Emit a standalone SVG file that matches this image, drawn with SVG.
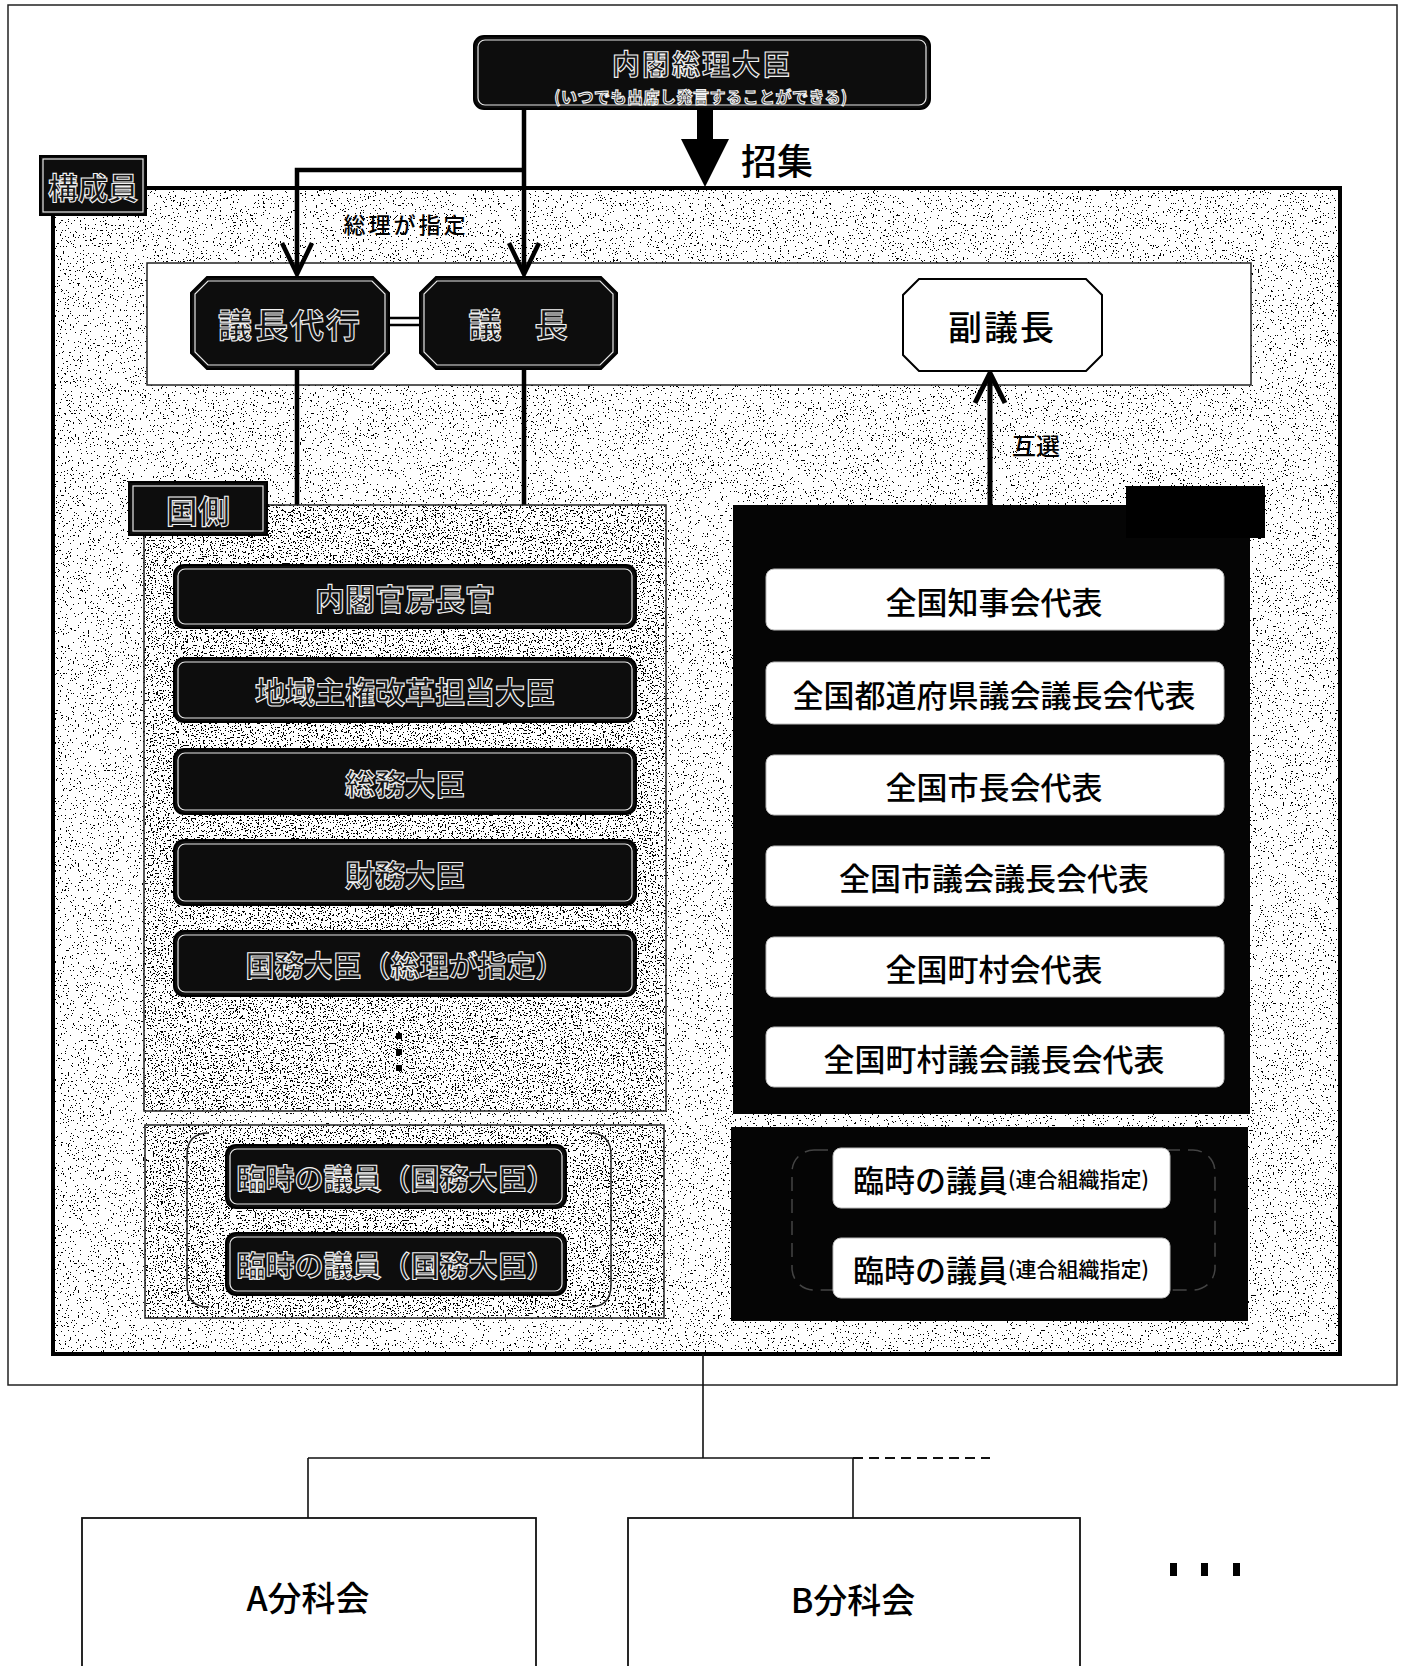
<svg xmlns="http://www.w3.org/2000/svg" width="1405" height="1666" viewBox="0 0 1405 1666">
<defs>
<style>
.jp{font-family:"Noto Sans CJK JP","Noto Sans CJK SC",sans-serif;}
.hol{fill:#151515;stroke:#f2f2f2;stroke-width:1.1;font-weight:700;text-anchor:middle;dominant-baseline:central;}
.blk{fill:#000;font-weight:500;text-anchor:middle;dominant-baseline:central;}
.dark{fill:#0d0d0d;stroke:#000;stroke-width:2;}
.inner{fill:none;stroke:#e8e8e8;stroke-width:1.2;}
.wbox{fill:#fff;stroke:#bbb;stroke-width:1;}
.conn{fill:none;stroke:#000;stroke-width:4.5;}
.thin{fill:none;stroke:#111;stroke-width:1.6;}
</style>
<filter id="spk" x="0" y="0" width="1" height="1" color-interpolation-filters="sRGB">
<feTurbulence type="fractalNoise" baseFrequency="0.6" numOctaves="2" seed="7"/>
<feColorMatrix type="matrix" values="0 0 0 0 0  0 0 0 0 0  0 0 0 0 0  12 0 0 0 -7.7"/>
<feComponentTransfer><feFuncA type="discrete" tableValues="0 1"/></feComponentTransfer>
</filter>
<filter id="spkd" x="0" y="0" width="1" height="1" color-interpolation-filters="sRGB">
<feTurbulence type="fractalNoise" baseFrequency="0.6" numOctaves="2" seed="11"/>
<feColorMatrix type="matrix" values="0 0 0 0 0  0 0 0 0 0  0 0 0 0 0  12 0 0 0 -7.0"/>
<feComponentTransfer><feFuncA type="discrete" tableValues="0 1"/></feComponentTransfer>
</filter>
</defs>
<rect width="1405" height="1666" fill="#fff"/>

<!-- frames -->
<g id="outer-frame">
<rect x="8" y="5" width="1389" height="1380" fill="#fff" stroke="#222" stroke-width="1.5"/>
</g>
<g id="main-frame">
<rect x="53" y="188" width="1287" height="1166" fill="#fff"/>
<rect x="53" y="188" width="1287" height="1166" fill="#000" filter="url(#spk)"/>
<rect x="53" y="188" width="1287" height="1166" fill="none" stroke="#000" stroke-width="4"/>
</g>

<g id="chair-band">
<rect x="147" y="263" width="1104" height="122" fill="#fff" stroke="#222" stroke-width="1.5"/>
</g>

<!-- connectors -->
<g id="connectors">
<polygon points="697,109 713,109 713,139 729,139 705,187 681,139 697,139" fill="#000"/>
<path class="conn" d="M524 109 V273 M524 170 H297 V273"/>
<path class="conn" d="M282 243 L297 274 L312 243 M509 243 L524 274 L539 243"/>
<path class="conn" d="M297 369 V505 M524 369 V505"/>
<path fill="none" stroke="#000" stroke-width="2.5" d="M389 318 H420 M389 325 H420"/>
<path fill="none" stroke="#000" stroke-width="5" d="M990 505 V374 M975 403 L990 373 L1005 403"/>
<path class="thin" d="M703 1354 V1458 M308 1458 H853 M308 1458 V1518 M853 1458 V1518"/>
<path fill="none" stroke="#111" stroke-width="1.8" stroke-dasharray="10 6" d="M853 1458 H990"/>
</g>

<g id="pm">
<rect class="dark" x="474" y="36" width="456" height="73" rx="10"/>
<rect class="inner" x="478" y="40" width="448" height="65" rx="7"/>
<text class="jp hol" x="702" y="63" font-size="28" letter-spacing="2">内閣総理大臣</text>
<text class="jp hol" x="701" y="96" font-size="16" stroke-width="0.7" letter-spacing="0.5">(いつでも出席し発言することができる)</text>
</g>
<g id="label-shoshu"><text class="jp blk" x="777" y="159" font-size="36">招集</text></g>

<g id="members-label">
<rect class="dark" x="40" y="156" width="106" height="59"/>
<rect class="inner" x="43" y="159" width="100" height="53"/>
<text class="jp hol" x="93" y="186" font-size="30">構成員</text>
</g>

<g id="label-sori"><text class="jp blk" x="406" y="223" font-size="22" letter-spacing="3" font-weight="400">総理が指定</text></g>
<g id="label-gosen"><text class="jp blk" x="1036" y="444" font-size="24" font-weight="400">互選</text></g>

<g id="gicho-dairi">
<path class="dark" d="M207 277 H373 L389 293 V353 L373 369 H207 L191 353 V293 Z"/>
<path class="inner" d="M208 281 H372 L385 294 V352 L372 365 H208 L195 352 V294 Z"/>
<text class="jp hol" x="290" y="323" font-size="34" letter-spacing="2">議長代行</text>
</g>
<g id="gicho">
<path class="dark" d="M436 277 H601 L617 293 V353 L601 369 H436 L420 353 V293 Z"/>
<path class="inner" d="M437 281 H600 L613 294 V352 L600 365 H437 L424 352 V294 Z"/>
<text class="jp hol" x="518" y="323" font-size="33">議　長</text>
</g>
<g id="fuku-gicho">
<path d="M919 279 H1086 L1102 295 V355 L1086 371 H919 L903 355 V295 Z" fill="#fff" stroke="#000" stroke-width="2"/>
<text class="jp blk" x="1002" y="325" font-size="34" letter-spacing="2">副議長</text>
</g>

<!-- national side -->
<g id="kuni-panel">
<rect x="144" y="505" width="522" height="606" fill="#fff"/>
<rect x="144" y="505" width="522" height="606" fill="#000" filter="url(#spkd)"/>
<rect x="144" y="505" width="522" height="606" fill="none" stroke="#222" stroke-width="1.5"/>
<rect x="396" y="1033" width="6" height="6" fill="#000"/>
<rect x="396" y="1049" width="6" height="6" fill="#000"/>
<rect x="396" y="1065" width="6" height="6" fill="#000"/>
</g>
<g id="kuni-label">
<rect class="dark" x="129" y="482" width="138" height="53"/>
<rect class="inner" x="133" y="486" width="130" height="45"/>
<text class="jp hol" x="198" y="509" font-size="32">国側</text>
</g>
<g id="k1"><rect class="dark" x="174" y="565" width="462" height="63" rx="10"/><rect class="inner" x="178" y="569" width="454" height="55" rx="7"/><text class="jp hol" x="405" y="597" font-size="30">内閣官房長官</text></g>
<g id="k2"><rect class="dark" x="174" y="658" width="462" height="64" rx="10"/><rect class="inner" x="178" y="662" width="454" height="56" rx="7"/><text class="jp hol" x="405" y="690" font-size="30">地域主権改革担当大臣</text></g>
<g id="k3"><rect class="dark" x="174" y="749" width="462" height="65" rx="10"/><rect class="inner" x="178" y="753" width="454" height="57" rx="7"/><text class="jp hol" x="405" y="782" font-size="30">総務大臣</text></g>
<g id="k4"><rect class="dark" x="174" y="840" width="462" height="65" rx="10"/><rect class="inner" x="178" y="844" width="454" height="57" rx="7"/><text class="jp hol" x="405" y="873" font-size="30">財務大臣</text></g>
<g id="k5"><rect class="dark" x="174" y="931" width="462" height="65" rx="10"/><rect class="inner" x="178" y="935" width="454" height="57" rx="7"/><text class="jp hol" x="405" y="964" font-size="29">国務大臣（総理が指定）</text></g>

<g id="kuni-temp-panel">
<rect x="145" y="1125" width="519" height="193" fill="#fff"/>
<rect x="145" y="1125" width="519" height="193" fill="#000" filter="url(#spkd)"/>
<rect x="145" y="1125" width="519" height="193" fill="none" stroke="#222" stroke-width="1.5"/>
<path fill="none" stroke="#222" stroke-width="1.5" d="M209 1133 Q187 1133 187 1155 V1285 Q187 1307 209 1307 M589 1133 Q611 1133 611 1155 V1285 Q611 1307 589 1307"/>
</g>
<g id="kt1"><rect class="dark" x="226" y="1145" width="340" height="63" rx="10"/><rect class="inner" x="230" y="1149" width="332" height="55" rx="7"/><text class="jp hol" x="396" y="1177" font-size="29">臨時の議員（国務大臣）</text></g>
<g id="kt2"><rect class="dark" x="226" y="1233" width="340" height="62" rx="10"/><rect class="inner" x="230" y="1237" width="332" height="54" rx="7"/><text class="jp hol" x="396" y="1264" font-size="29">臨時の議員（国務大臣）</text></g>

<!-- local side -->
<g id="chiho-panel">
<rect x="733" y="505" width="517" height="609" fill="#050505"/>
<rect x="1126" y="486" width="139" height="52" fill="#000"/>
</g>
<g id="c1"><rect class="wbox" x="766" y="569" width="458" height="61" rx="8"/><text class="jp blk" x="994" y="600" font-size="31">全国知事会代表</text></g>
<g id="c2"><rect class="wbox" x="766" y="662" width="458" height="62" rx="8"/><text class="jp blk" x="994" y="693" font-size="31">全国都道府県議会議長会代表</text></g>
<g id="c3"><rect class="wbox" x="766" y="755" width="458" height="60" rx="8"/><text class="jp blk" x="994" y="785" font-size="31">全国市長会代表</text></g>
<g id="c4"><rect class="wbox" x="766" y="846" width="458" height="60" rx="8"/><text class="jp blk" x="994" y="876" font-size="31">全国市議会議長会代表</text></g>
<g id="c5"><rect class="wbox" x="766" y="937" width="458" height="60" rx="8"/><text class="jp blk" x="994" y="967" font-size="31">全国町村会代表</text></g>
<g id="c6"><rect class="wbox" x="766" y="1027" width="458" height="60" rx="8"/><text class="jp blk" x="994" y="1057" font-size="31">全国町村議会議長会代表</text></g>

<g id="chiho-temp-panel">
<rect x="731" y="1127" width="517" height="194" fill="#050505"/>
<rect x="792" y="1150" width="423" height="140" rx="22" fill="none" stroke="#444" stroke-width="1.5" stroke-dasharray="14 8"/>
</g>
<g id="ct1"><rect class="wbox" x="833" y="1148" width="337" height="60" rx="8"/><text class="jp blk" x="1001" y="1178" font-size="31">臨時の議員<tspan font-size="21">(連合組織指定)</tspan></text></g>
<g id="ct2"><rect class="wbox" x="833" y="1238" width="337" height="60" rx="8"/><text class="jp blk" x="1001" y="1268" font-size="31">臨時の議員<tspan font-size="21">(連合組織指定)</tspan></text></g>

<!-- subcommittees -->
<g id="bunka-a"><rect x="82" y="1518" width="454" height="170" fill="#fff" stroke="#111" stroke-width="1.8"/><text class="jp blk" x="308" y="1596" font-size="34" font-weight="400">A分科会</text></g>
<g id="bunka-b"><rect x="628" y="1518" width="452" height="170" fill="#fff" stroke="#111" stroke-width="1.8"/><text class="jp blk" x="853" y="1598" font-size="34" font-weight="400">B分科会</text></g>
<g id="more">
<rect x="1170" y="1563" width="7" height="13" fill="#000"/>
<rect x="1201" y="1563" width="7" height="13" fill="#000"/>
<rect x="1233" y="1563" width="7" height="13" fill="#000"/>
</g>
</svg>
